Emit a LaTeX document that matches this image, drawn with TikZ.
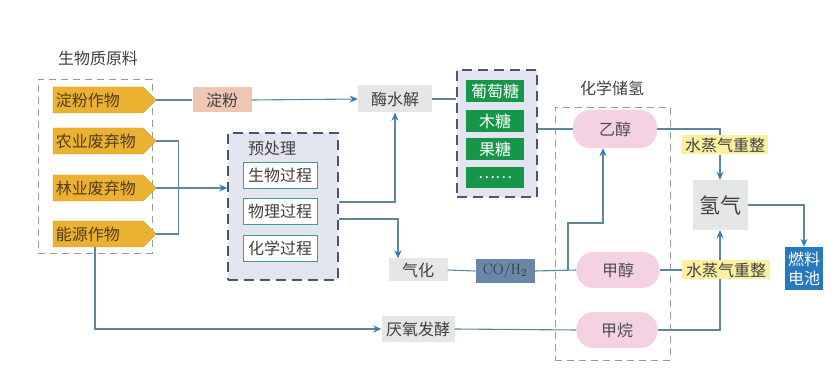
\documentclass[tikz,border=0pt]{standalone}
\usepackage{fontspec}
\newfontfamily\cjk{Noto Sans CJK SC}
\usetikzlibrary{arrows.meta,positioning,shapes.symbols}
\definecolor{linkc}{RGB}{95,135,155}
\definecolor{tipc}{RGB}{50,125,185}
\definecolor{tagfill}{RGB}{234,178,48}
\definecolor{tagline}{RGB}{222,150,40}
\definecolor{tagtext}{RGB}{85,60,25}
\definecolor{boxgray}{RGB}{228,231,227}
\definecolor{starch}{RGB}{238,198,178}
\definecolor{sugarg}{RGB}{22,150,72}
\definecolor{pinkc}{RGB}{245,210,225}
\definecolor{yellowc}{RGB}{250,240,160}
\definecolor{cogas}{RGB}{105,135,168}
\definecolor{cellc}{RGB}{40,120,192}
\definecolor{dashc}{RGB}{75,85,115}
\definecolor{lavend}{RGB}{226,229,240}
\definecolor{processc}{RGB}{60,160,140}
\tikzset{
  lnk/.style={draw=linkc, line width=1.1pt},
  arr/.style={lnk, -{Stealth[length=8pt,width=7pt,color=tipc]}},
  txt/.style={font=\cjk\fontsize{16}{18}\selectfont, text=black!75},
  tag/.style={txt, signal, signal to=east, draw=tagline, fill=tagfill, text=tagtext,
              text width=84pt, align=left, minimum height=26pt, inner xsep=3pt},
  gbox/.style={txt, fill=boxgray, inner sep=2pt},
  grnbox/.style={txt, fill=sugarg, text=white, minimum width=58pt, inner sep=1pt},
  procbox/.style={txt, draw=processc, thick, fill=white!95!lavend, minimum width=74pt, minimum height=26pt, inner sep=1pt},
  pill/.style={txt, fill=pinkc, rounded corners=17pt, text=black!70},
  ybox/.style={txt, fill=yellowc, inner sep=1pt, minimum height=19pt},
  grpbox/.style={draw=black!40, dashed, dash pattern=on 7pt off 5pt, line width=0.8pt},
  blobbox/.style={draw=dashc, fill=lavend, dashed, dash pattern=on 10pt off 6pt, line width=1.5pt},
}
\begin{document}
\begin{tikzpicture}[x=1pt, y=-1pt]
  \useasboundingbox[fill=white] (0,0) rectangle (839,374);
  % raw material group
  \node[txt] (rawtitle) at (98,58) {生物质原料};
  \node[grpbox, minimum width=114pt, minimum height=174pt] (raw) at (95,166.5) {};
  \node[tag] (starchcrop) at (98,100) {淀粉作物};
  \node[tag] (agri) at (98,141) {农业废弃物};
  \node[tag] (forest) at (98,188) {林业废弃物};
  \node[tag] (energy) at (98,234) {能源作物};
  % pretreatment
  \node[blobbox, minimum width=110pt, minimum height=147pt] (pre) at (283,206.5) {};
  \node[txt] (pretitle) at (272,148) {预处理};
  \node[procbox] (bio) at (280,175) {生物过程};
  \node[procbox] (phys) at (280,211.5) {物理过程};
  \node[procbox] (chemp) at (280,248.5) {化学过程};
  % middle column
  \node[gbox, fill=starch, minimum width=59pt, minimum height=25pt] (starch) at (222,100) {淀粉};
  \node[gbox, minimum width=74pt, minimum height=27pt] (enzyme) at (395,99) {酶水解};
  \node[gbox, minimum width=59pt, minimum height=23pt] (gasify) at (418,270) {气化};
  \node[gbox, minimum width=73pt, minimum height=26pt] (anaer) at (418,329) {厌氧发酵};
  \node[fill=cogas, minimum width=59pt, minimum height=24pt, inner sep=1pt, font=\fontsize{15}{17}\selectfont, text=black!80] (syngas) at (505,271) {CO/H$_2$};
  % sugars
  \node[blobbox, minimum width=80pt, minimum height=127pt] (sugar) at (497,133.5) {};
  \node[grnbox, minimum height=22pt] (glucose) at (495,91) {葡萄糖};
  \node[grnbox, minimum height=22pt] (xylose) at (495,121) {木糖};
  \node[grnbox, minimum height=22pt] (fructose) at (495,149) {果糖};
  \node[grnbox, minimum height=21pt] (more) at (495,177.5) {……};
  % chemical hydrogen storage
  \node[txt] (chemtitle) at (612,88) {化学储氢};
  \node[grpbox, minimum width=115pt, minimum height=253pt] (chem) at (612.5,233.5) {};
  \node[pill, minimum width=84pt, minimum height=38pt] (ethanol) at (615,129) {乙醇};
  \node[pill, minimum width=83pt, minimum height=36pt] (methanol) at (618,270) {甲醇};
  \node[pill, minimum width=81pt, minimum height=36pt] (methane) at (617,330) {甲烷};
  % hydrogen
  \node[gbox, minimum width=55pt, minimum height=50pt, font=\cjk\fontsize{21}{23}\selectfont] (hydro) at (720,205) {氢气};
  \node[fill=cellc, text=white, minimum width=38pt, minimum height=43pt, inner sep=1pt, align=center,
        font=\cjk\fontsize{16}{19}\selectfont] (cell) at (804,268.5) {燃料\\电池};
  % connectors
  \draw[lnk] (starchcrop.east) -- (starch.west);
  \draw[arr] (starch.east) -- (enzyme.west);
  \draw[lnk] (agri.east) -- ++(22,0) |- (energy.east);
  \draw[arr] (forest.east) -- (forest.east -| pre.west);
  \draw[arr] ([yshift=4.5pt]pre.east) -| (enzyme.south);
  \draw[arr] ([yshift=-12.5pt]pre.east) -| ([xshift=-20pt]gasify.north);
  \draw[lnk] (enzyme.east) -- (enzyme.east -| sugar.west);
  \draw[lnk] (ethanol.west -| sugar.east) -- (ethanol.west);
  \draw[lnk] (gasify.east) -- (syngas.west);
  \draw[lnk] (syngas.east) -- (methanol.west);
  \coordinate (split) at (568,270);
  \coordinate (bend) at (603,223);
  \draw[arr] (split) |- (bend) -- (bend |- ethanol.south);
  \draw[arr] ([xshift=-3pt]energy.south) |- (anaer.west);
  \draw[lnk] (anaer.east) -- (methane.west);
  \draw[lnk] (ethanol.east) -| (hydro.north |- 0,145);
  \draw[lnk] (methanol.east) -- ++(30,0);
  \draw[lnk] (methane.east) -| (hydro.south |- 0,270);
  \node[ybox, minimum width=86pt] (reformA) at (725,145) {水蒸气重整};
  \node[ybox, minimum width=88pt] (reformB) at (726,270) {水蒸气重整};
  \draw[arr] (reformA.south -| hydro.north) -- (hydro.north);
  \draw[arr] (reformB.north -| hydro.south) -- (hydro.south);
  \draw[arr] (hydro.east) -| (cell.north);
\end{tikzpicture}
\end{document}
